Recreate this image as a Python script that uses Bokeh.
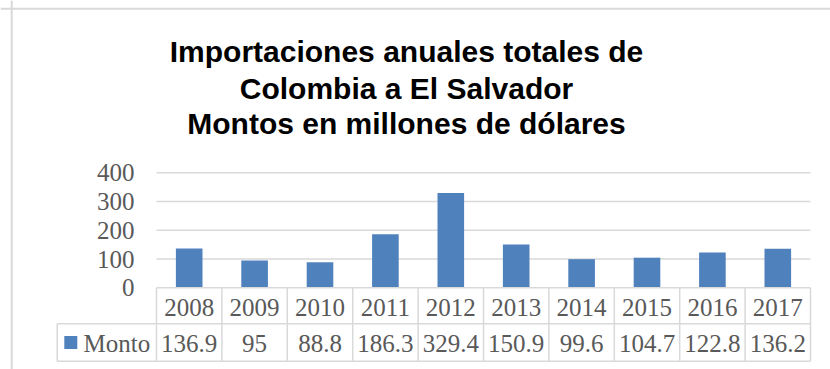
from bokeh.plotting import figure
from bokeh.models import Range1d, Span, ColumnDataSource
from bokeh.core.properties import value
from bokeh.embed import file_html
from bokeh.resources import INLINE

# ---------------- data ----------------
years = ["2008", "2009", "2010", "2011", "2012", "2013", "2014", "2015", "2016", "2017"]
montos = [136.9, 95, 88.8, 186.3, 329.4, 150.9, 99.6, 104.7, 122.8, 136.2]
y_ticks = [0, 100, 200, 300, 400]
series_name = "Monto"
title_lines = ["Importaciones anuales totales de",
               "Colombia a El Salvador",
               "Montos en millones de dólares"]

# ---------------- layout constants (pixels, figure-relative) ----------------
W, H = 830, 369
COL_PX = 65.4          # width of one category column
PLOT_LEFT_PX = 156.0   # left edge of plot area
Y0_PX = 287.3          # pixel row of value 0
PX_PER_UNIT = 0.2875   # pixels per unit of value


def xd(px):
    return -0.5 + (px - PLOT_LEFT_PX) / COL_PX


def yd(py):
    return (Y0_PX - py) / PX_PER_UNIT


GRID = "#D9D9D9"
TXT = "#595959"
BAR = "#4F81BD"
SERIF = value("Liberation Serif")
FS = "25px"

p = figure(width=W, height=H, output_backend="svg", toolbar_location=None,
           x_range=Range1d(xd(0), xd(W)), y_range=Range1d(yd(H), yd(0)),
           x_axis_location=None, y_axis_location=None, min_border=0)
p.outline_line_color = None
p.grid.grid_line_color = None
p.background_fill_color = "white"
p.border_fill_color = "white"

n = len(years)
xs = list(range(n))

# chart border (top and left)
p.add_layout(Span(location=yd(8.3), dimension="width", line_color=GRID, line_width=2))
p.add_layout(Span(location=xd(11.2), dimension="height", line_color=GRID, line_width=2))

# title
title_y = [yd(51), yd(88), yd(123)]
p.text(x=[xd(406)] * len(title_lines), y=title_y, text=title_lines,
       text_font=value("Liberation Sans"), text_font_style="bold",
       text_font_size="30px", text_color="black",
       text_align="center", text_baseline="alphabetic")

# gridlines
gl = [t for t in y_ticks if t > 0]
p.segment(x0=[-0.5] * len(gl), x1=[n - 0.5] * len(gl), y0=gl, y1=gl,
          line_color=GRID, line_width=1.5)

# y tick labels
p.text(x=[xd(134)] * len(y_ticks), y=y_ticks, text=[str(t) for t in y_ticks],
       text_font=SERIF, text_font_size=FS, text_color=TXT,
       text_align="right", text_baseline="middle")

# bars
src = ColumnDataSource(dict(x=xs, top=montos))
p.vbar(x="x", top="top", bottom=0, width=0.407, source=src,
       fill_color=BAR, line_color=None)

# data table
row1 = yd(323.3)
row2 = yd(360.7)
leg_left = xd(56.7)
hx0 = [-0.5, leg_left, leg_left]
hx1 = [n - 0.5, n - 0.5, n - 0.5]
hy = [0, row1, row2]
p.segment(x0=hx0, x1=hx1, y0=hy, y1=hy, line_color=GRID, line_width=1.5)
vx = [i - 0.5 for i in range(n + 1)]
p.segment(x0=vx, x1=vx, y0=[0] * len(vx), y1=[row2] * len(vx),
          line_color=GRID, line_width=1.5)
p.segment(x0=[leg_left], x1=[leg_left], y0=[row1], y1=[row2],
          line_color=GRID, line_width=1.5)

p.text(x=xs, y=[yd(306.5)] * n, text=years, text_font=SERIF,
       text_font_size=FS, text_color=TXT,
       text_align="center", text_baseline="middle")
p.text(x=xs, y=[yd(342.5)] * n, text=[f"{v:g}" for v in montos], text_font=SERIF,
       text_font_size=FS, text_color=TXT,
       text_align="center", text_baseline="middle")

# legend key
p.scatter(x=[xd(70.3)], y=[yd(342)], marker="square", size=13,
          fill_color=BAR, line_color=None)
p.text(x=[xd(83)], y=[yd(342.5)], text=[series_name], text_font=SERIF,
       text_font_size=FS, text_color=TXT,
       text_align="left", text_baseline="middle")

open("out.html", "w").write(file_html(p, INLINE))
